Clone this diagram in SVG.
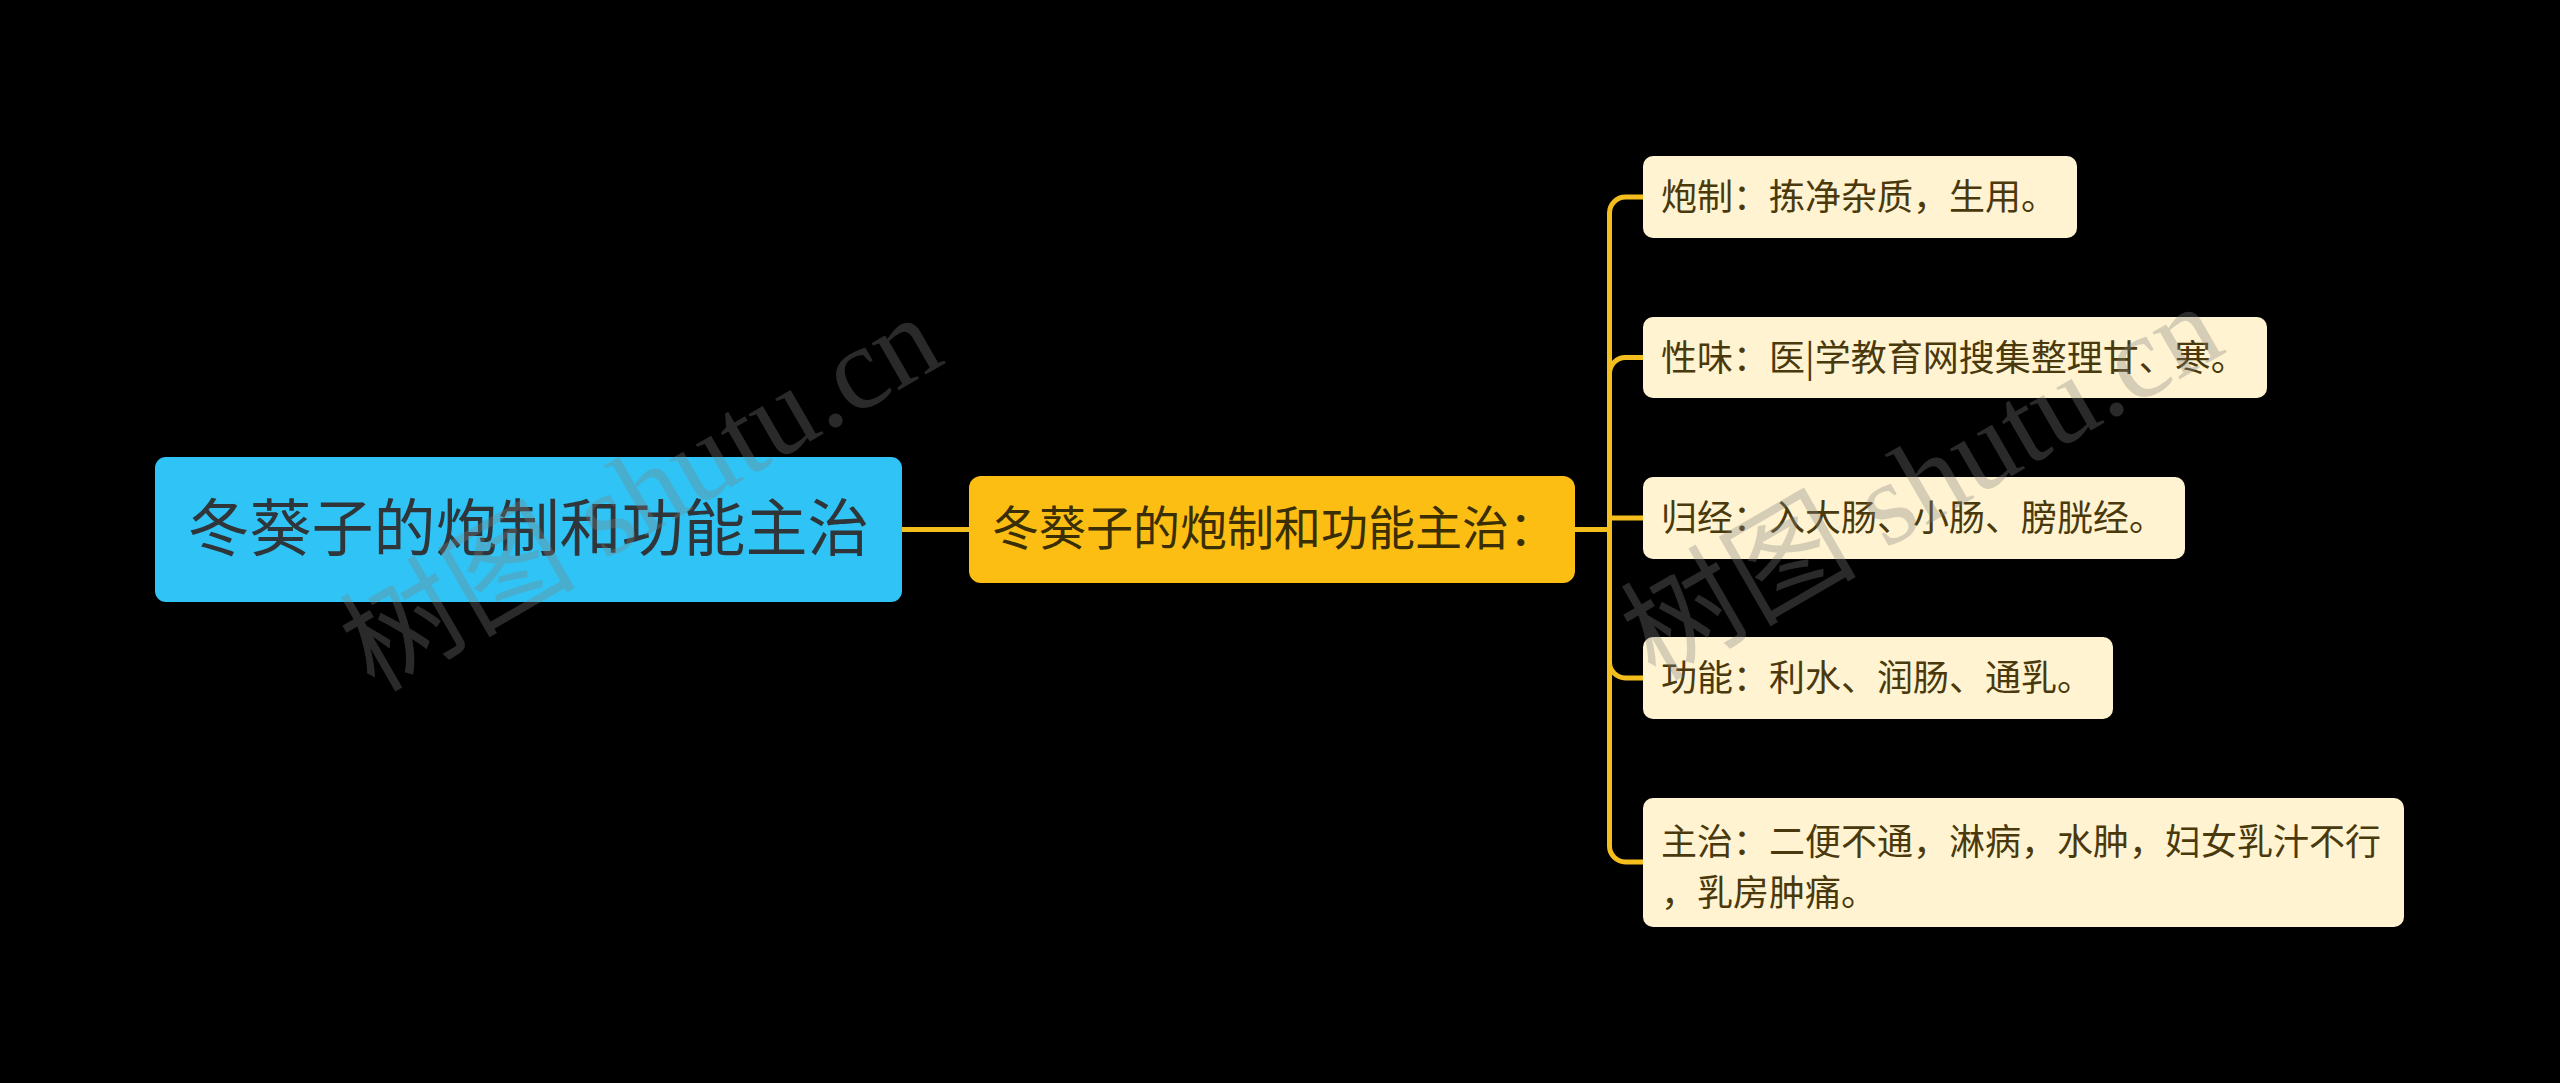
<svg xmlns="http://www.w3.org/2000/svg" width="2560" height="1083" viewBox="0 0 2560 1083">
<style>
.cjk{font-family:"Noto Sans CJK SC","Noto Sans",sans-serif}
.conn{fill:none;stroke:#F4BE1E;stroke-width:5;stroke-linejoin:round;stroke-linecap:butt}
.leaf rect{fill:#FFF3D1}
.leaf text{fill:#4A390C;font-size:36px}
.wm{font-family:"Liberation Serif","Noto Sans CJK SC",serif;font-size:118px;fill:#808080;fill-opacity:0.33}
</style>
<rect x="0" y="0" width="2560" height="1083" fill="#000000"/>
<g id="connectors">
<path class="conn" d="M901,529.5 H969"/>
<path class="conn" d="M1575,529.5 H1609.5 V213 A16,16 0 0 1 1625.5,197 H1644"/>
<path class="conn" d="M1575,529.5 H1609.5 V373.5 A16,16 0 0 1 1625.5,357.5 H1644"/>
<path class="conn" d="M1575,529.5 H1609.5 V518 H1644"/>
<path class="conn" d="M1575,529.5 H1609.5 V662 A16,16 0 0 0 1625.5,678 H1644"/>
<path class="conn" d="M1575,529.5 H1609.5 V846 A16,16 0 0 0 1625.5,862 H1644"/>
</g>
<g id="root">
<rect x="155" y="457" width="747" height="145" rx="11" fill="#2FC4F5"/>
<text class="cjk" x="528.5" y="551" font-size="62" text-anchor="middle" fill="#2F3538">冬葵子的炮制和功能主治</text>
</g>
<g id="middle">
<rect x="969" y="476" width="606" height="107" rx="12" fill="#FDBE14"/>
<text class="cjk" x="992" y="545" font-size="47" fill="#3A2E05">冬葵子的炮制和功能主治：</text>
</g>
<g id="leaf1" class="leaf">
<rect x="1643" y="156" width="434" height="82" rx="10"/>
<text class="cjk" x="1661" y="210">炮制：拣净杂质，生用。</text>
</g>
<g id="leaf2" class="leaf">
<rect x="1643" y="317" width="624" height="81" rx="10"/>
<text class="cjk" x="1661" y="371">性味：医|学教育网搜集整理甘、寒。</text>
</g>
<g id="leaf3" class="leaf">
<rect x="1643" y="477" width="542" height="82" rx="10"/>
<text class="cjk" x="1661" y="531">归经：入大肠、小肠、膀胱经。</text>
</g>
<g id="leaf4" class="leaf">
<rect x="1643" y="637" width="470" height="82" rx="10"/>
<text class="cjk" x="1661" y="691">功能：利水、润肠、通乳。</text>
</g>
<g id="leaf5" class="leaf">
<rect x="1643" y="798" width="761" height="129" rx="10"/>
<text class="cjk" x="1661" y="855">主治：二便不通，淋病，水肿，妇女乳汁不行</text>
<text class="cjk" x="1661" y="906">，乳房肿痛。</text>
</g>
<g id="watermarks">
<text class="wm" transform="translate(374,693) rotate(-30)">树图 shutu.cn</text>
<text class="wm" transform="translate(1655,682) rotate(-30)">树图 shutu.cn</text>
</g>
</svg>
